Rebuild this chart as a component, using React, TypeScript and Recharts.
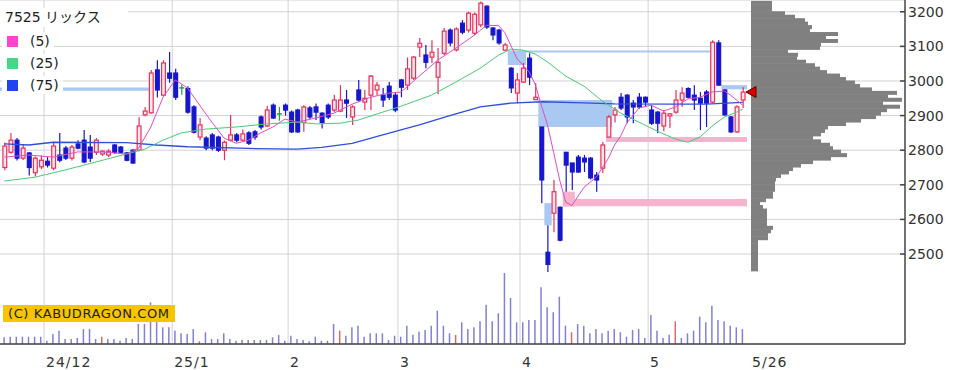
import React from 'react';
import {
  ComposedChart, BarChart, Bar, Line, XAxis, YAxis, CartesianGrid,
  ReferenceArea, ReferenceDot, Cell,
} from 'recharts';

const FONT = "'DejaVu Sans', 'Noto Sans CJK JP', sans-serif";

// daily candles [open, high, low, close], 2024/11/21 .. 2025/5/26
const ohlc: number[][] = [
  [2750, 2822, 2742, 2812], [2794, 2850, 2790, 2829], [2829, 2835, 2770, 2777], [2777, 2815, 2772, 2806],
  [2792, 2795, 2727, 2750], [2735, 2782, 2725, 2777], [2752, 2785, 2745, 2771], [2768, 2780, 2750, 2757],
  [2748, 2822, 2742, 2812], [2786, 2850, 2765, 2771], // 10
  [2806, 2812, 2772, 2777], [2777, 2815, 2770, 2809], [2818, 2829, 2803, 2806], [2829, 2858, 2762, 2766],
  [2809, 2844, 2766, 2777], [2794, 2835, 2786, 2829], [2789, 2800, 2783, 2797], [2786, 2803, 2780, 2797],
  [2815, 2818, 2790, 2794], [2809, 2812, 2790, 2794], // 20
  [2792, 2795, 2768, 2771], [2800, 2803, 2760, 2763], [2800, 2895, 2797, 2870], [2902, 2925, 2898, 2913],
  [2908, 3032, 2905, 3023], [3032, 3060, 2952, 2974], [2959, 3060, 2955, 3052], [3023, 3084, 2995, 3008],
  [3023, 3035, 2945, 2953], [2980, 2990, 2960, 2980], // 30
  [2978, 2985, 2905, 2910], [2925, 2930, 2848, 2852], [2838, 2893, 2829, 2873], [2835, 2840, 2800, 2806],
  [2844, 2850, 2800, 2806], [2838, 2842, 2795, 2800], [2800, 2828, 2771, 2823], [2829, 2902, 2826, 2844],
  [2844, 2850, 2823, 2829], [2829, 2860, 2826, 2847], // 40
  [2850, 2855, 2815, 2820], [2853, 2858, 2830, 2838], [2896, 2900, 2860, 2867], [2870, 2928, 2867, 2916],
  [2930, 2935, 2890, 2893], [2905, 2925, 2885, 2905], [2930, 2935, 2900, 2916], [2910, 2915, 2850, 2853],
  [2916, 2920, 2850, 2853], [2880, 2930, 2853, 2925], // 50
  [2922, 2928, 2890, 2896], [2925, 2935, 2887, 2910], [2907, 2910, 2863, 2880], [2930, 2935, 2890, 2896],
  [2916, 2960, 2910, 2945], [2913, 2988, 2910, 2945], [2945, 2974, 2893, 2936], [2896, 2930, 2873, 2925],
  [2974, 3003, 2940, 2945], [2939, 2974, 2916, 2950], // 60
  [2959, 3017, 2916, 3014], [2974, 2997, 2959, 2988], [2959, 2980, 2925, 2945], [2985, 2997, 2945, 2953],
  [2959, 2965, 2910, 2916], [3003, 3006, 2953, 2982], [2988, 3068, 2974, 3035], [3008, 3072, 3003, 3069],
  [3098, 3124, 3069, 3109], [3075, 3104, 3037, 3054], // 70
  [3069, 3118, 3052, 3083], [3011, 3095, 2962, 3054], [3080, 3153, 3075, 3144], [3147, 3152, 3100, 3110],
  [3090, 3155, 3085, 3150], [3167, 3176, 3135, 3141], [3147, 3200, 3140, 3196], [3138, 3198, 3132, 3193],
  [3162, 3230, 3155, 3225], [3216, 3219, 3150, 3156], // 80
  [3153, 3156, 3118, 3133], [3147, 3150, 3105, 3110], [3089, 3110, 3088, 3104], [3037, 3040, 2965, 2980],
  [2965, 3023, 2936, 3003], [2997, 3052, 2994, 3037], [3066, 3080, 2988, 3011], [2946, 2994, 2945, 2953],
  [2867, 2867, 2647, 2714], [2505, 2583, 2448, 2470], // 90
  [2618, 2714, 2563, 2680], [2635, 2637, 2537, 2540], [2794, 2794, 2680, 2757], [2763, 2763, 2685, 2737],
  [2780, 2786, 2735, 2737], [2777, 2786, 2737, 2766], [2777, 2780, 2715, 2720], [2728, 2737, 2680, 2714],
  [2748, 2824, 2734, 2815], [2838, 2902, 2838, 2896], // 100
  [2902, 2925, 2880, 2916], [2953, 2965, 2916, 2922], [2959, 2962, 2878, 2896], [2936, 2945, 2878, 2925],
  [2953, 2965, 2920, 2925], [2953, 2955, 2925, 2939], [2916, 2930, 2873, 2878], [2910, 2913, 2850, 2878],
  [2870, 2916, 2855, 2907], [2899, 2907, 2864, 2905], // 110
  [2910, 2974, 2905, 2945], [2945, 2982, 2925, 2965], [2978, 2982, 2950, 2953], [2959, 2988, 2916, 2945],
  [2950, 2968, 2858, 2936], [2968, 2974, 2867, 2936], [2939, 3118, 2936, 3112], [3110, 3118, 2988, 2988],
  [2974, 2976, 2900, 2902], [2896, 2899, 2850, 2853], // 120
  [2853, 2930, 2850, 2925], [2945, 2982, 2922, 2968],
];

// volume (hundreds of shares)
const volume: number[] = [
  67, 73, 73, 73, 73, 73, 73, 33, 100, 133,
  50, 50, 60, 150, 150, 50, 73, 50, 50, 33,
  60, 50, 200, 200, 417, 233, 167, 167, 133, 107,
  100, 150, 27, 117, 50, 50, 107, 50, 33, 40,
  40, 40, 40, 40, 67, 90, 33, 83, 50, 40,
  27, 73, 33, 33, 200, 133, 83, 167, 183, 73,
  107, 107, 107, 40, 83, 73, 183, 93, 123, 140,
  183, 333, 183, 107, 90, 217, 150, 167, 227, 393,
  227, 307, 710, 460, 217, 217, 240, 240, 567, 367,
  317, 473, 183, 117, 200, 183, 107, 150, 107, 133,
  150, 117, 73, 140, 150, 60, 290, 133, 60, 93,
  227, 60, 107, 133, 273, 217, 383, 240, 227, 183,
  167, 150,
];
const redVolumeDays = [16, 32, 55, 74, 93, 110];

// moving averages: [day index, price]
const ma5: number[][] = [
  [0, 2780], [4, 2786], [8, 2780], [12, 2795], [16, 2795], [20, 2789], [22, 2806], [24, 2867],
  [26, 2953], [28, 3003], [30, 2980], [32, 2930], [34, 2881], [36, 2835], [38, 2820], [40, 2829],
  [42, 2850], [44, 2867], [46, 2890], [48, 2881], [51, 2893], [54, 2907], [57, 2933], [60, 2953],
  [63, 2965], [65, 2968], [68, 3014], [71, 3060], [74, 3095], [77, 3132], [79, 3161], [81, 3160],
  [82, 3140], [84, 3065], [86, 3026], [87, 2990], [88, 2930], [89, 2873], [90, 2795], [91, 2714],
  [92, 2650], [93, 2640], [95, 2693], [97, 2722], [99, 2777], [100, 2815], [101, 2841], [102, 2878],
  [104, 2922], [106, 2930], [108, 2913], [110, 2925], [112, 2948], [114, 2953], [116, 2968],
  [118, 2971], [119, 2959], [120, 2945], [121, 2930],
];
const ma25: number[][] = [
  [0, 2711], [5, 2722], [10, 2743], [15, 2766], [20, 2789], [23, 2803], [26, 2829], [29, 2850],
  [33, 2861], [38, 2867], [43, 2876], [48, 2881], [51, 2876], [55, 2878], [58, 2887], [62, 2910],
  [65, 2927], [70, 2959], [74, 2997], [78, 3037], [81, 3075], [83, 3092], [85, 3089], [87, 3078],
  [89, 3055], [92, 3014], [95, 2985], [98, 2942], [101, 2907], [104, 2881], [107, 2855], [110, 2832],
  [112, 2823], [114, 2838], [116, 2870], [118, 2896], [120, 2910], [121, 2919],
];
const ma75: number[][] = [
  [0, 2818], [4, 2815], [8, 2823], [20, 2822], [25, 2815], [30, 2810], [40, 2805], [48, 2803],
  [52, 2808], [57, 2820], [62, 2844], [68, 2873], [73, 2900], [78, 2925], [83, 2936], [88, 2940],
  [95, 2937], [100, 2934], [110, 2933], [115, 2933], [121, 2938],
];

// open windows (gaps): [from day, to day, top price, bottom price]
const gapsDown: number[][] = [
  [-0.72, 23.8, 2981, 2972], [82.5, 85.5, 3088, 3046], [85.5, 115.7, 3088, 3082],
  [87.5, 99.6, 2945, 2867], [88.5, 89.7, 2647, 2583], [117.5, 121.7, 2988, 2976],
];
const gapsUp: number[][] = [
  [91.5, 93.5, 2680, 2637], [93.5, 121.7, 2659, 2638], [98.6, 121.7, 2838, 2824],
];

// volume by price: [bucket low, volume]
const profile: number[][] = [
  [3220, 21], [3210, 21], [3200, 21], [3190, 34], [3180, 44], [3170, 54], [3160, 57], [3150, 61],
  [3140, 59], [3130, 87], [3120, 75], [3110, 87], [3100, 70], [3090, 69], [3080, 37], [3070, 47],
  [3060, 46], [3050, 55], [3040, 64], [3030, 69], [3020, 76], [3010, 89], [3000, 95], [2990, 104],
  [2980, 109], [2970, 121], [2960, 146], [2950, 137], [2940, 151], [2930, 132], [2920, 149],
  [2910, 136], [2900, 130], [2890, 125], [2880, 110], [2870, 95], [2860, 77], [2850, 74], [2840, 70],
  [2830, 62], [2820, 70], [2810, 79], [2800, 82], [2790, 90], [2780, 96], [2770, 80], [2760, 62],
  [2750, 50], [2740, 42], [2730, 38], [2720, 30], [2710, 25], [2700, 24], [2690, 24], [2680, 24],
  [2670, 22], [2660, 22], [2650, 15], [2640, 9], [2630, 12], [2620, 16], [2610, 16], [2600, 16],
  [2590, 16], [2580, 16], [2570, 22], [2560, 20], [2550, 17], [2540, 17], [2530, 7], [2520, 7],
  [2510, 7], [2500, 7], [2490, 7], [2480, 7], [2470, 7], [2460, 7], [2450, 7],
];

const priceTicks = [2500, 2600, 2700, 2800, 2900, 3000, 3100, 3200];
const monthTicks: [number, string][] = [
  [6.5, '24/12'], [27.5, '25/1'], [46.5, '2'], [64.5, '3'], [84.5, '4'], [105.5, '5'],
];
const lastTick: [number, string] = [122.2, '5/26'];

const RED = '#e8305a';
const UP_FILL = '#ffe6ec';
const BLUE = '#1616cc';
const DOJI = '#22a040';

const rows = ohlc.map(([o, h, l, c], i) => ({
  i, open: o, high: h, low: l, close: c, range: [l, h], vol: volume[i],
}));
const toRows = (arr: number[][]) => arr.map(([i, v]) => ({ i, v }));
const profileRows = profile.map(([p, w]) => ({ p: p + 5, w }));
const last = ohlc[ohlc.length - 1][3];

const tickLabel = new Map<number, string>([...monthTicks, lastTick]);

const Candle = (props: any) => {
  const { x, y, width, height, payload } = props;
  const { open, close, high, low } = payload;
  const top = Math.min(y, y + height);
  const h = Math.abs(height);
  const py = (v: number) => (high === low ? top : top + ((high - v) / (high - low)) * h);
  const cx = x + width / 2;
  const yo = py(open);
  const yc = py(close);
  const flat = open === close;
  const up = close > open;
  const color = flat ? DOJI : up ? RED : BLUE;
  return (
    <g>
      <line x1={cx} x2={cx} y1={top} y2={top + h} stroke={color} strokeWidth={1.2} />
      {flat ? (
        <line x1={x} x2={x + width} y1={yo} y2={yo} stroke={color} strokeWidth={1.5} />
      ) : (
        <rect x={x + 0.6} y={Math.min(yo, yc)} width={width - 1.2}
          height={Math.max(Math.abs(yc - yo), 1)} fill={up ? UP_FILL : color}
          stroke={color} strokeWidth={1.2} />
      )}
    </g>
  );
};

// profile bars slightly taller than their slot so neighbouring buckets touch
const ProfileBar = (p: any) => (
  <rect x={p.x} y={p.y - 0.5} width={Math.max(p.width, 0)} height={p.height + 1} fill="#808080" />
);

const DateTick = ({ x, y, payload }: any) => (
  <text x={x + 2} y={y} dy="0.71em" textAnchor="start" fontSize={14} fill="#333"
    fontFamily={FONT} letterSpacing={1}>
    {tickLabel.get(payload.value)}
  </text>
);

const PriceTick = ({ x, y, payload }: any) => (
  <g>
    <line x1={x - 8} x2={x - 3} y1={y} y2={y} stroke="#444" strokeWidth={1.5} />
    <text x={x} y={y} dy="0.355em" textAnchor="start" fontSize={14} fill="#333" fontFamily={FONT}>
      {payload.value}
    </text>
  </g>
);

const Marker = ({ cx, cy }: any) => (
  <polygon points={`${cx},${cy} ${cx + 10},${cy - 5.5} ${cx + 10},${cy + 5.5}`}
    fill="#e00000" stroke="#500" strokeWidth={1} />
);

const legendRow = (top: number, color: string, text: string) => (
  <div style={{
    position: 'absolute', left: 2, top, height: 18, paddingLeft: 5, paddingRight: 4,
    background: '#fff', display: 'flex', alignItems: 'center', fontSize: 14, color: '#222',
  }}>
    <span style={{ width: 11, height: 11, background: color, marginRight: 12 }} />
    <span>{text}</span>
  </div>
);

export default function App() {
  return (
    <div style={{ position: 'absolute', left: 0, top: 0, width: 967, height: 370, background: '#fff', fontFamily: FONT }}>
      <ComposedChart width={967} height={370} data={rows} margin={{ top: 0, right: 0, bottom: 0, left: 0 }}>
        <CartesianGrid stroke="#d2d2d2" strokeWidth={1}
          verticalValues={monthTicks.map((t) => t[0])} />
        <XAxis dataKey="i" type="number" domain={[-0.72, 147.6]} allowDataOverflow
          ticks={[...monthTicks.map((t) => t[0]), lastTick[0]]} interval={0}
          tick={<DateTick />} tickLine={false} tickSize={0} tickMargin={13} height={26}
          axisLine={{ stroke: '#444', strokeWidth: 1.5 }} />
        <XAxis xAxisId="vx" dataKey="i" type="number" domain={[-0.72, 147.6]} allowDataOverflow hide />
        <YAxis orientation="right" type="number" domain={[2240, 3234]} allowDataOverflow
          ticks={priceTicks} interval={0} width={62} tickLine={false} tickSize={0} tickMargin={3}
          tick={<PriceTick />} axisLine={{ stroke: '#444', strokeWidth: 1.5 }} />
        <YAxis yAxisId="vol" domain={[0, 3440]} hide />
        {gapsDown.map((g, k) => (
          <ReferenceArea key={'d' + k} x1={g[0]} x2={g[1]} y1={g[3]} y2={g[2]}
            fill="#a9c8f2" fillOpacity={1} stroke="none" ifOverflow="hidden" />
        ))}
        {gapsUp.map((g, k) => (
          <ReferenceArea key={'u' + k} x1={g[0]} x2={g[1]} y1={g[3]} y2={g[2]}
            fill="#f5b3cd" fillOpacity={1} stroke="none" ifOverflow="hidden" />
        ))}
        <Bar xAxisId="vx" yAxisId="vol" dataKey="vol" barSize={1.5} isAnimationActive={false}>
          {rows.map((r) => (
            <Cell key={r.i} fill={redVolumeDays.includes(r.i) ? '#d86a6a' : '#8080d8'} />
          ))}
        </Bar>
        <Bar dataKey="range" barSize={5} shape={(p: any) => <Candle {...p} />} activeBar={false}
          isAnimationActive={false} />
        <Line data={toRows(ma75)} dataKey="v" stroke="#2f4fdc" strokeWidth={1.3} dot={false}
          activeDot={false} isAnimationActive={false} />
        <Line data={toRows(ma25)} dataKey="v" stroke="#4cc978" strokeWidth={1} dot={false}
          activeDot={false} isAnimationActive={false} />
        <Line data={toRows(ma5)} dataKey="v" stroke="#e04cc4" strokeWidth={1} dot={false}
          activeDot={false} isAnimationActive={false} />
      </ComposedChart>

      <div style={{ position: 'absolute', left: 0, top: 0, pointerEvents: 'none' }}>
        <BarChart layout="vertical" width={967} height={370} data={profileRows}
          margin={{ top: 0, right: 62, bottom: 26, left: 745 }}>
          <XAxis type="number" domain={[-6, 154]} allowDataOverflow hide />
          <YAxis type="number" dataKey="p" domain={[2240, 3234]} allowDataOverflow reversed hide />
          <Bar dataKey="w" barSize={3} shape={(p: any) => <ProfileBar {...p} />} activeBar={false}
            isAnimationActive={false} />
          <ReferenceDot x={-5} y={last} r={6} shape={(p: any) => <Marker {...p} />} />
        </BarChart>
      </div>

      <div style={{
        position: 'absolute', left: 0, top: 8, width: 123, height: 19, paddingLeft: 5,
        background: '#fff', fontSize: 14, lineHeight: '19px', color: '#222',
      }}>
        7525 リックス
      </div>
      {legendRow(32, '#ff44cc', '(5)')}
      {legendRow(54, '#44d884', '(25)')}
      {legendRow(76, '#2244ee', '(75)')}

      <div style={{
        position: 'absolute', left: 3, top: 305, height: 17, padding: '0 5px',
        background: '#f6c500', fontSize: 13, lineHeight: '17px', color: '#222', letterSpacing: 0.6,
      }}>
        (C) KABUDRAGON.COM
      </div>
    </div>
  );
}
